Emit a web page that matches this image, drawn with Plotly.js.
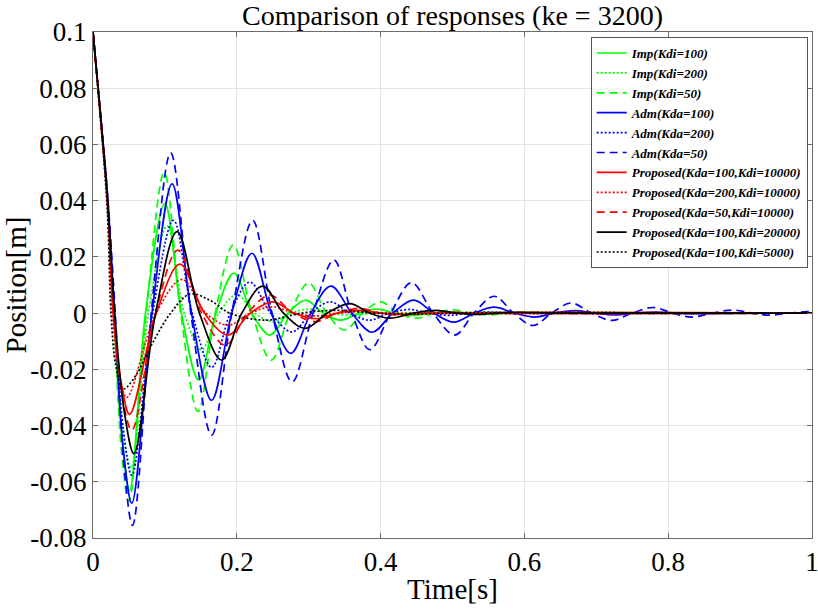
<!DOCTYPE html>
<html>
<head>
<meta charset="utf-8">
<script src="https://cdn.plot.ly/plotly-3.0.1.min.js"></script>
<style>html,body{margin:0;padding:0;background:#fff;}#chart{width:818px;height:610px;}</style>
</head>
<body>
<div id="chart"></div>
<script>
// ---- Data (time in s, position in m) ----
const imp100_t = [0, 0.01, 0.02, 0.029, 0.04, 0.051, 0.073, 0.1, 0.123, 0.147, 0.171, 0.196, 0.221, 0.246, 0.271, 0.296, 0.32, 0.345, 0.37, 0.395, 0.42, 0.445, 0.47, 0.495, 0.52, 0.545, 0.6, 1.0];
const imp100_y = [0.1, 0.071, 0.041, 0, -0.044, -0.063, 0, 0.039, 0, -0.0238, 0, 0.0142, 0, -0.0078, 0, 0.0046, 0, -0.0025, 0, 0.0014, 0, -0.0008, 0, 0.0004, 0, -0.0002, 0, 0];

const imp200_t = [0, 0.01, 0.02, 0.029, 0.04, 0.053, 0.077, 0.103, 0.127, 0.151, 0.175, 0.2, 0.225, 0.25, 0.275, 0.3, 0.325, 0.35, 0.4, 1.0];
const imp200_y = [0.1, 0.071, 0.041, 0, -0.039, -0.055, 0, 0.031, 0, -0.013, 0, 0.0065, 0, -0.003, 0, 0.0014, 0, -0.0006, 0, 0];

const imp50_t = [0, 0.01, 0.02, 0.029, 0.04, 0.05, 0.074, 0.099, 0.122, 0.146, 0.17, 0.195, 0.221, 0.248, 0.274, 0.3, 0.325, 0.35, 0.375, 0.4, 0.425, 0.45, 0.475, 0.5, 0.525, 0.55, 0.575, 0.6, 0.65, 1.0];
const imp50_y = [0.1, 0.071, 0.041, 0, -0.05, -0.067, 0, 0.05, 0, -0.035, 0, 0.0242, 0, -0.0167, 0, 0.0107, 0, -0.006, 0, 0.004, 0, -0.0018, 0, 0.0012, 0, -0.0007, 0, 0.0004, 0, 0];

const adm100_t = [0, 0.01, 0.02, 0.03, 0.042, 0.054, 0.082, 0.11, 0.137, 0.165, 0.193, 0.221, 0.248, 0.275, 0.303, 0.331, 0.36, 0.388, 0.417, 0.446, 0.474, 0.502, 0.53, 0.558, 0.586, 0.614, 0.642, 0.67, 0.698, 0.726, 0.754, 0.782, 0.81, 0.838, 0.9, 1.0];
const adm100_y = [0.1, 0.072, 0.042, 0, -0.048, -0.0676, 0, 0.046, 0, -0.031, 0, 0.0213, 0, -0.0143, 0, 0.0096, 0, -0.0068, 0, 0.0046, 0, -0.0032, 0, 0.0021, 0, -0.0014, 0, 0.0009, 0, -0.0006, 0, 0.0004, 0, -0.0002, 0, 0];

const adm200_t = [0, 0.01, 0.02, 0.03, 0.042, 0.054, 0.083, 0.112, 0.138, 0.165, 0.191, 0.218, 0.247, 0.277, 0.303, 0.33, 0.357, 0.385, 0.412, 0.44, 0.467, 0.495, 0.522, 0.55, 0.6, 1.0];
const adm200_y = [0.1, 0.072, 0.042, 0, -0.041, -0.0577, 0, 0.033, 0, -0.0193, 0, 0.011, 0, -0.0067, 0, 0.004, 0, -0.0025, 0, 0.0013, 0, -0.0008, 0, 0.0004, 0, 0];

const adm50_t = [0, 0.01, 0.02, 0.031, 0.043, 0.055, 0.081, 0.108, 0.136, 0.165, 0.193, 0.222, 0.249, 0.277, 0.306, 0.335, 0.36, 0.385, 0.414, 0.443, 0.473, 0.503, 0.53, 0.558, 0.585, 0.612, 0.638, 0.665, 0.693, 0.722, 0.75, 0.779, 0.806, 0.833, 0.861, 0.89, 0.916, 0.942, 0.968, 0.995, 1.0];
const adm50_y = [0.1, 0.072, 0.043, 0, -0.054, -0.0755, 0, 0.057, 0, -0.0434, 0, 0.033, 0, -0.0245, 0, 0.0189, 0, -0.013, 0, 0.0108, 0, -0.0078, 0, 0.006, 0, -0.0044, 0, 0.0036, 0, -0.0026, 0, 0.002, 0, -0.0014, 0, 0.0011, 0, -0.0007, 0, 0.0005, 0.0004];

const prop100_10000_t = [0, 0.01, 0.02, 0.028, 0.04, 0.051, 0.088, 0.121, 0.155, 0.188, 0.219, 0.25, 0.28, 0.31, 0.34, 0.37, 0.4, 0.43, 0.47, 1.0];
const prop100_10000_y = [0.1, 0.071, 0.04, 0, -0.026, -0.036, 0, 0.0174, 0, -0.0078, 0, 0.004, 0, -0.002, 0, 0.001, 0, -0.0005, 0, 0];

const prop200_10000_t = [0, 0.01, 0.02, 0.027, 0.037, 0.047, 0.088, 0.124, 0.157, 0.188, 0.219, 0.25, 0.28, 0.31, 0.34, 0.37, 0.42, 1.0];
const prop200_10000_y = [0.1, 0.07, 0.038, 0, -0.022, -0.03, 0, 0.012, 0, -0.0043, 0, 0.0022, 0, -0.001, 0, 0.0005, 0, 0];

const prop50_10000_t = [0, 0.01, 0.02, 0.029, 0.041, 0.054, 0.087, 0.118, 0.151, 0.184, 0.215, 0.246, 0.278, 0.31, 0.34, 0.37, 0.4, 0.43, 0.46, 0.49, 0.54, 1.0];
const prop50_10000_y = [0.1, 0.071, 0.041, 0, -0.03, -0.0417, 0, 0.0224, 0, -0.0114, 0, 0.0064, 0, -0.003, 0, 0.0017, 0, -0.0008, 0, 0.0004, 0, 0];

const prop100_20000_t = [0, 0.01, 0.02, 0.03, 0.044, 0.057, 0.087, 0.117, 0.148, 0.179, 0.207, 0.236, 0.265, 0.295, 0.326, 0.357, 0.385, 0.413, 0.445, 0.478, 0.506, 0.535, 0.562, 0.59, 0.65, 1.0];
const prop100_20000_y = [0.1, 0.072, 0.042, 0, -0.036, -0.05, 0, 0.029, 0, -0.0167, 0, 0.0096, 0, -0.0054, 0, 0.0034, 0, -0.0018, 0, 0.001, 0, -0.0005, 0, 0.0003, 0, 0];

const prop100_5000_t = [0, 0.01, 0.02, 0.025, 0.032, 0.042, 0.06, 0.08, 0.108, 0.135, 0.163, 0.19, 0.24, 0.29, 0.34, 0.39, 0.44, 0.5, 1.0];
const prop100_5000_y = [0.1, 0.071, 0.036, 0, -0.019, -0.027, -0.022, -0.012, 0, 0.0068, 0.0045, 0, -0.0025, 0, 0.001, 0, -0.0004, 0, 0];

const seriesNames = [
  'Imp(Kdi=100)', 'Imp(Kdi=200)', 'Imp(Kdi=50)',
  'Adm(Kda=100)', 'Adm(Kda=200)', 'Adm(Kda=50)',
  'Proposed(Kda=100,Kdi=10000)', 'Proposed(Kda=200,Kdi=10000)', 'Proposed(Kda=50,Kdi=10000)',
  'Proposed(Kda=100,Kdi=20000)', 'Proposed(Kda=100,Kdi=5000)'
];
const xTickVals = [0, 0.2, 0.4, 0.6, 0.8, 1];
const xTickText = ['0', '0.2', '0.4', '0.6', '0.8', '1'];
const yTickVals = [0.1, 0.08, 0.06, 0.04, 0.02, 0, -0.02, -0.04, -0.06, -0.08];
const yTickText = ['0.1', '0.08', '0.06', '0.04', '0.02', '0', '-0.02', '-0.04', '-0.06', '-0.08'];

// ---- styles ----
const xs = [imp100_t, imp200_t, imp50_t, adm100_t, adm200_t, adm50_t, prop100_10000_t, prop200_10000_t, prop50_10000_t, prop100_20000_t, prop100_5000_t];
const ys = [imp100_y, imp200_y, imp50_y, adm100_y, adm200_y, adm50_y, prop100_10000_y, prop200_10000_y, prop50_10000_y, prop100_20000_y, prop100_5000_y];
const colors = ['#00ff00', '#00ff00', '#00ff00', '#0000ff', '#0000ff', '#0000ff', '#ff0000', '#ff0000', '#ff0000', '#000000', '#000000'];
const DOT = '2px,2px', DASH = '8px,5px';
const dashes = ['solid', DOT, DASH, 'solid', DOT, DASH, 'solid', DOT, DASH, 'solid', DOT];

const traces = xs.map((x, i) => ({
  x: x, y: ys[i], name: seriesNames[i], type: 'scatter', mode: 'lines',
  line: {color: colors[i], width: 1.7, dash: dashes[i], shape: 'spline', smoothing: 1}
}));

const serif = 'Liberation Serif';
const axisCommon = {
  showline: true, mirror: 'allticks', linecolor: '#6b6b6b', linewidth: 1,
  ticks: 'inside', ticklen: 5, tickcolor: '#6b6b6b',
  showgrid: true, gridcolor: '#e4e4e4', gridwidth: 1, zeroline: false,
  ticklabeloverflow: 'allow',
  tickfont: {family: serif, size: 27, color: '#000'}
};

const layout = {
  width: 818, height: 610,
  margin: {l: 93, r: 6, t: 32, b: 72},
  paper_bgcolor: '#fff', plot_bgcolor: '#fff',
  title: {text: 'Comparison of responses (ke = 3200)', font: {family: serif, size: 28, color: '#000'},
          x: 0.5, xref: 'paper', xanchor: 'center', y: 0.975, yref: 'container', yanchor: 'middle'},
  xaxis: Object.assign({}, axisCommon, {range: [0, 1], tickmode: 'array', tickvals: xTickVals, ticktext: xTickText,
          title: {text: 'Time[s]', font: {family: serif, size: 29, color: '#000'}, standoff: 2}}),
  yaxis: Object.assign({}, axisCommon, {range: [-0.08, 0.1], tickmode: 'array', tickvals: yTickVals, ticktext: yTickText,
          title: {text: 'Position[m]', font: {family: serif, size: 29, color: '#000'}, standoff: 2}}),
  showlegend: true,
  legend: {x: 0.994, y: 0.99, xanchor: 'right', yanchor: 'top', bgcolor: '#fff',
           bordercolor: '#555', borderwidth: 1, itemwidth: 30, tracegroupgap: 0,
           font: {family: serif, size: 13, color: '#000', style: 'italic', weight: 'bold'}}
};

Plotly.newPlot('chart', traces, layout, {displayModeBar: false, staticPlot: true});
</script>
</body>
</html>
